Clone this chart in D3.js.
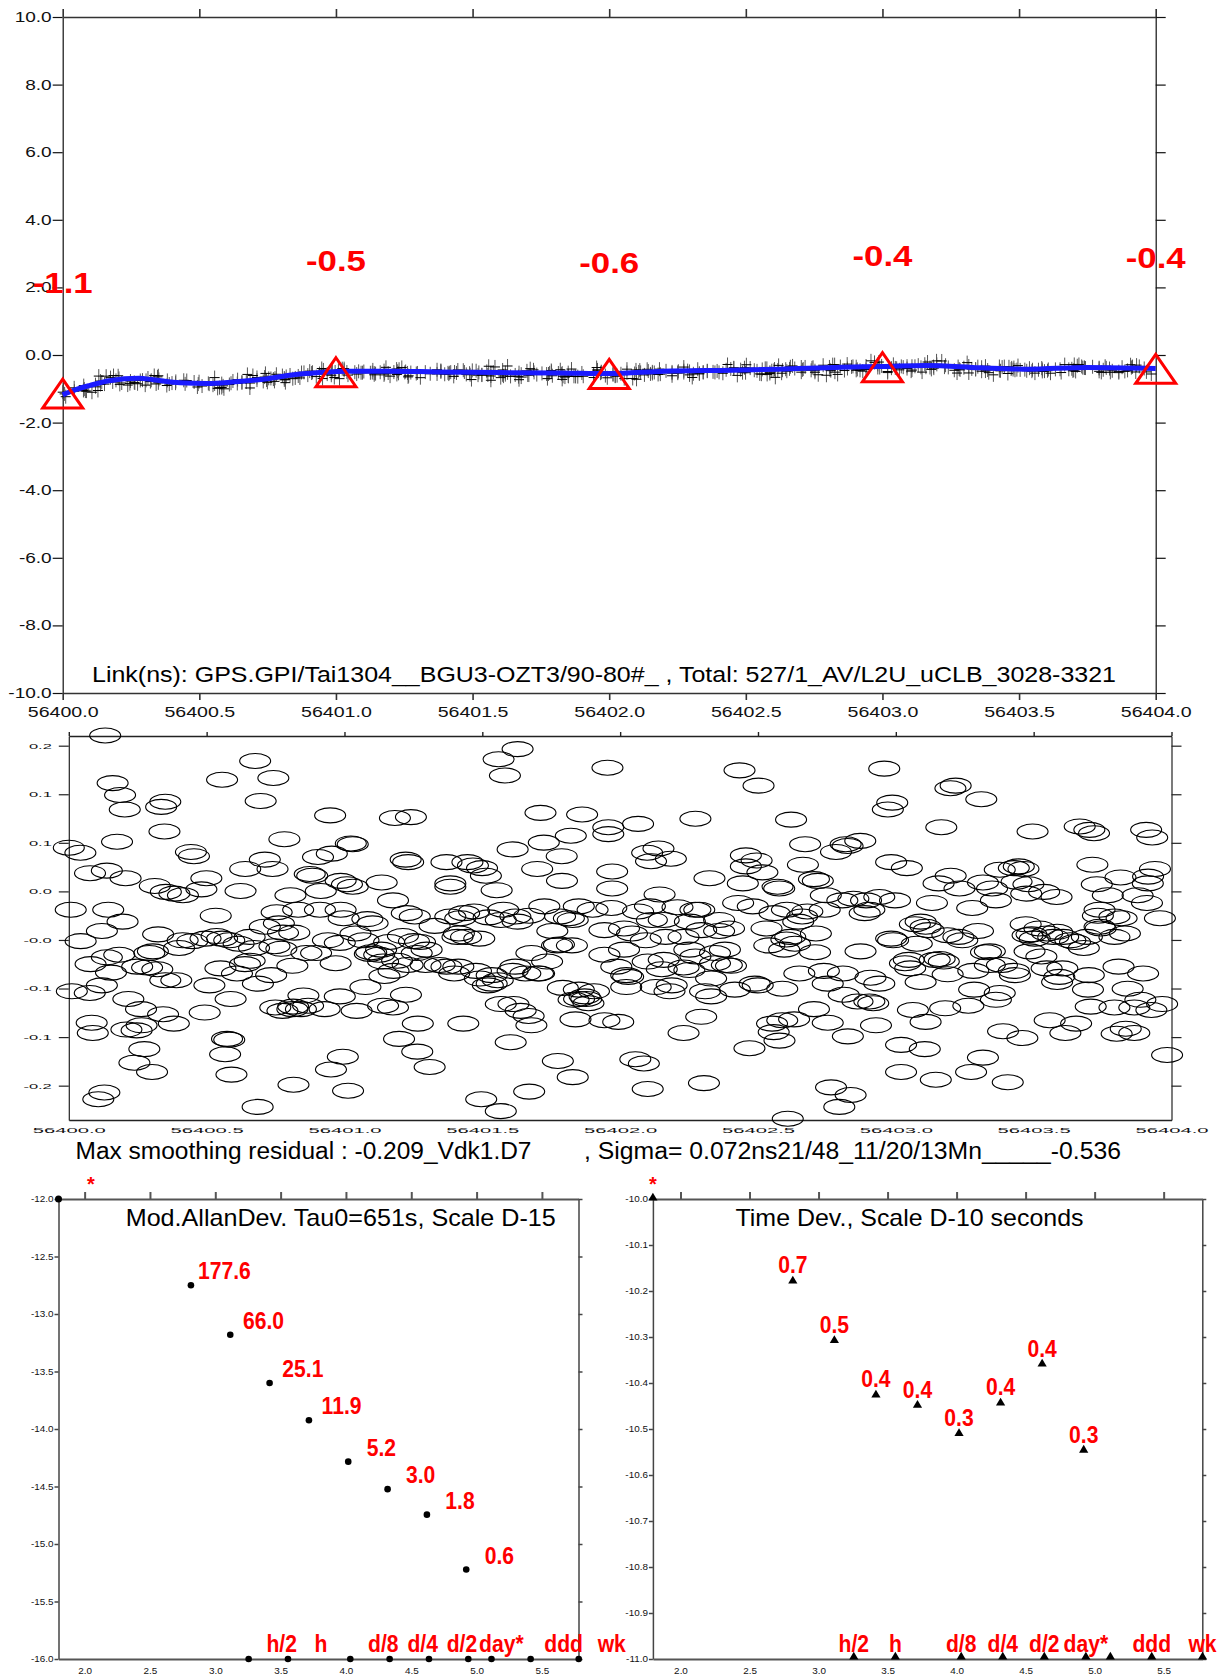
<!DOCTYPE html>
<html>
<head>
<meta charset="utf-8">
<script src="https://cdn.jsdelivr.net/npm/d3@7"></script>
<style>
  body { margin: 0; background: #fff; }
  svg { display: block; font-family: "Liberation Sans", Arial, sans-serif; }
</style>
</head>
<body>
<svg id="chart" width="1221" height="1678"></svg>
<script>
  'use strict';

  /* ---- data ---- */
  var MJD0 = 56400;

  // smoothed link curve (days after MJD0, ns)
  var smoothDays = [0, 0.05, 0.1, 0.17, 0.28, 0.33, 0.43, 0.53, 0.62, 0.75, 0.83, 0.94, 1.05, 1.2,
    1.37, 1.6, 1.82, 2.0, 2.2, 2.45, 2.62, 2.85, 3.0, 3.16, 3.36, 3.53, 3.75, 4.0];
  var smoothNs = [-1.18, -1.02, -0.90, -0.76, -0.69, -0.73, -0.82, -0.84, -0.80, -0.70, -0.60, -0.52,
    -0.48, -0.48, -0.50, -0.52, -0.53, -0.55, -0.48, -0.45, -0.42, -0.36, -0.34, -0.31, -0.38, -0.42,
    -0.37, -0.40];

  // daily values marked with red triangles
  var dayMarks = [0, 1, 2, 3, 4];
  var dayMarkNs = [-1.14, -0.51, -0.56, -0.36, -0.41];

  // smoothing residuals [day after MJD0, ns]
  var residuals = [
    [0.132, 0.212], [0.159, 0.156], [0.186, 0.142], [0.203, 0.125], [0.350, 0.134], [0.335, 0.128],
    [0.347, 0.099], [0.175, 0.087], [0.000, 0.080], [0.042, 0.074], [0.077, 0.050], [0.138, 0.053],
    [0.206, 0.044], [0.312, 0.035], [0.352, 0.028], [0.383, 0.026], [0.414, 0.024], [0.443, 0.075],
    [0.454, 0.070], [0.499, 0.044], [0.481, 0.031], [0.556, 0.160], [0.676, 0.182], [0.742, 0.162],
    [0.696, 0.135], [0.782, 0.090], [0.711, 0.066], [0.739, 0.055], [0.640, 0.055], [0.623, 0.029],
    [0.533, 0.000], [0.804, 0.024], [0.874, 0.049], [0.883, 0.047], [0.904, 0.069], [0.954, 0.073],
    [0.914, 0.029], [0.948, 0.118], [1.030, 0.084], [1.023, 0.085], [0.986, 0.041], [1.009, 0.037],
    [1.030, 0.034], [1.135, 0.039], [1.176, 0.018], [1.183, 0.115], [1.241, 0.116], [1.222, 0.066],
    [1.231, 0.063], [1.370, 0.063], [1.384, 0.038], [1.384, 0.034], [1.446, 0.063], [1.466, 0.059],
    [1.499, 0.056], [1.513, 0.047], [1.552, 0.030], [1.559, 0.184], [1.582, 0.165], [1.628, 0.196],
    [1.711, 0.121], [1.862, 0.119], [1.610, 0.078], [1.723, 0.086], [1.821, 0.094], [1.788, 0.070],
    [1.699, 0.055], [1.789, 0.041], [0.007, 0.007], [0.143, 0.007], [0.195, -0.007], [0.120, -0.018],
    [0.043, -0.030], [0.324, -0.022], [0.413, -0.029], [0.448, -0.030], [0.496, -0.027], [0.536, -0.024],
    [0.556, -0.027], [0.582, -0.029], [0.616, -0.033], [0.656, -0.025], [0.672, -0.038], [0.754, 0.004],
    [0.762, -0.009], [0.711, -0.013], [0.777, -0.020], [0.818, -0.020], [0.862, -0.044], [0.746, -0.036],
    [0.771, -0.039], [0.832, 0.007], [0.911, 0.007], [0.986, 0.007], [0.940, -0.029], [0.997, -0.003],
    [1.040, -0.021], [1.083, -0.004], [1.102, -0.009], [1.069, -0.029], [1.097, -0.043], [1.126, -0.046],
    [1.133, -0.040], [1.162, -0.031], [1.226, 0.003], [1.255, -0.001], [1.212, -0.024], [1.252, -0.030],
    [1.274, -0.031], [1.327, -0.012], [1.298, -0.040], [1.294, -0.058], [1.345, -0.058], [1.370, -0.060],
    [1.398, -0.068], [1.384, -0.001], [1.420, -0.003], [1.434, 0.003], [1.415, -0.021], [1.410, -0.025],
    [1.441, -0.025], [1.489, -0.027], [1.470, 0.005], [1.523, -0.002], [1.567, -0.005], [1.576, 0.007],
    [1.628, -0.007], [1.620, -0.001], [1.670, 0.000], [1.725, 0.011], [1.754, -0.018], [1.782, -0.001],
    [1.814, -0.003], [1.828, -0.005], [1.850, 0.011], [1.900, 0.007], [1.771, -0.035], [1.778, -0.034],
    [1.825, -0.035], [1.735, -0.054], [1.678, -0.044], [1.656, -0.068], [1.706, -0.068], [0.079, -0.057],
    [0.138, -0.049], [0.183, -0.046], [0.153, -0.067], [0.248, -0.060], [0.284, -0.061], [0.321, -0.063],
    [0.305, -0.042], [0.292, -0.044], [0.400, -0.038], [0.350, -0.076], [0.390, -0.076], [0.510, -0.082],
    [0.550, -0.062], [0.610, -0.068], [0.656, -0.053], [0.639, -0.057], [0.686, -0.080], [0.734, -0.070],
    [0.811, -0.059], [0.897, -0.044], [0.968, -0.056], [0.983, -0.032], [1.092, -0.045], [1.140, -0.054],
    [1.178, -0.065], [1.145, -0.071], [1.191, -0.053], [1.229, -0.058], [1.262, -0.044], [1.413, -0.060],
    [1.477, -0.065], [1.491, -0.074], [1.534, -0.070], [1.556, -0.076], [1.520, -0.082], [1.534, -0.080],
    [1.620, -0.060], [1.610, -0.065], [1.702, -0.068], [1.792, -0.085], [1.850, -0.087], [1.871, -0.095],
    [1.877, -0.098], [1.885, -0.103], [1.851, -0.098], [1.831, -0.099], [1.905, -0.089], [1.838, -0.122],
    [0.011, -0.089], [0.076, -0.091], [0.120, -0.082], [0.216, -0.098], [0.262, -0.110], [0.342, -0.116],
    [0.381, -0.127], [0.493, -0.114], [0.587, -0.098], [0.749, -0.108], [0.775, -0.112], [0.814, -0.107],
    [0.842, -0.110], [0.868, -0.106], [0.851, -0.094], [0.811, -0.110], [0.928, -0.110], [0.983, -0.095],
    [1.044, -0.112], [1.076, -0.084], [1.140, -0.106], [1.176, -0.108], [1.223, -0.093], [1.266, -0.127],
    [1.431, -0.127], [1.567, -0.104], [1.613, -0.104], [1.639, -0.112], [1.668, -0.118], [1.678, -0.129],
    [0.083, -0.126], [0.087, -0.138], [0.209, -0.134], [0.246, -0.135], [0.264, -0.129], [0.274, -0.157],
    [0.238, -0.173], [0.302, -0.184], [0.574, -0.145], [0.582, -0.146], [0.567, -0.163], [0.590, -0.187],
    [0.815, -0.199], [0.951, -0.181], [0.994, -0.166], [1.013, -0.206], [1.198, -0.145], [1.264, -0.160],
    [1.309, -0.178], [1.603, -0.149], [1.774, -0.171], [1.828, -0.190], [1.670, -0.207], [1.496, -0.216],
    [1.567, -0.230], [0.129, -0.208], [0.107, -0.216], [0.685, -0.225],
    [1.954, 0.174], [2.433, 0.171], [2.502, 0.153], [2.958, 0.173], [3.198, 0.150], [3.217, 0.153],
    [3.310, 0.137], [2.987, 0.133], [2.971, 0.125], [2.273, 0.114], [2.620, 0.113], [3.165, 0.104],
    [3.496, 0.099], [3.667, 0.105], [3.702, 0.101], [3.719, 0.097], [3.908, 0.101], [3.930, 0.092],
    [2.065, 0.108], [1.957, 0.104], [1.957, 0.096], [2.671, 0.084], [2.783, 0.075], [2.818, 0.084],
    [2.871, 0.088], [2.825, 0.082], [2.139, 0.079], [2.098, 0.074], [2.112, 0.064], [2.184, 0.067],
    [2.456, 0.071], [2.495, 0.065], [2.456, 0.058], [2.516, 0.051], [2.663, 0.060], [2.983, 0.063],
    [3.040, 0.056], [3.713, 0.060], [3.940, 0.055], [3.377, 0.054], [3.446, 0.058], [3.463, 0.055],
    [1.971, 0.052], [2.324, 0.044], [2.445, 0.038], [2.571, 0.034], [2.577, 0.032], [2.703, 0.043],
    [2.717, 0.041], [3.155, 0.038], [3.199, 0.047], [3.231, 0.032], [3.316, 0.039], [3.349, 0.032],
    [3.438, 0.040], [3.481, 0.037], [3.473, 0.026], [3.538, 0.028], [3.583, 0.022], [3.729, 0.037],
    [3.815, 0.045], [3.915, 0.046], [3.914, 0.038], [3.877, 0.024], [3.911, 0.015], [3.769, 0.024],
    [3.958, -0.003], [1.971, 0.032], [1.968, 0.009], [2.143, 0.025], [2.108, 0.011], [2.208, 0.010],
    [2.287, 0.007], [2.273, 0.007], [2.065, 0.005], [2.428, 0.015], [2.481, 0.011], [2.605, 0.007],
    [2.746, 0.024], [2.742, 0.007], [2.806, 0.018], [2.846, 0.020], [2.892, 0.018], [2.940, 0.022],
    [2.997, 0.018], [2.904, 0.007], [2.887, 0.003], [2.679, 0.005], [2.660, -0.001], [2.646, -0.007],
    [2.560, 0.003], [3.131, 0.015], [3.277, 0.009], [3.363, 0.018], [3.739, 0.007], [3.733, 0.000],
    [3.739, -0.013], [3.793, -0.001], [3.819, -0.003], [3.831, -0.021], [3.793, -0.025], [3.743, -0.015],
    [3.693, -0.025], [2.014, -0.015], [2.043, -0.021], [2.115, -0.005], [2.158, -0.005], [2.253, -0.007],
    [2.294, -0.017], [2.359, -0.018], [2.395, -0.015], [2.359, -0.005], [2.230, -0.025], [2.165, -0.025],
    [2.093, -0.029], [1.943, -0.017], [2.531, -0.015], [2.617, -0.025], [2.710, -0.021], [2.603, -0.028],
    [2.634, -0.033], [2.541, -0.035], [2.707, -0.043], [2.595, -0.040], [3.069, -0.010], [3.090, -0.007],
    [3.108, -0.013], [3.119, -0.017], [2.983, -0.027], [2.990, -0.029], [3.076, -0.033], [3.187, -0.023],
    [3.227, -0.025], [3.241, -0.029], [3.298, -0.018], [3.341, -0.042], [3.471, -0.010], [3.521, -0.015],
    [3.549, -0.021], [3.585, -0.019], [3.607, -0.025], [3.633, -0.029], [3.650, -0.031], [3.682, -0.038],
    [3.571, -0.025], [3.478, -0.023], [3.492, -0.022], [3.504, -0.027], [2.014, -0.040], [1.943, -0.046],
    [2.100, -0.054], [2.158, -0.052], [1.986, -0.060], [2.022, -0.070], [2.029, -0.072], [2.251, -0.040],
    [2.273, -0.048], [2.344, -0.044], [2.380, -0.040], [2.230, -0.061], [2.251, -0.064], [2.151, -0.063],
    [2.344, -0.056], [2.387, -0.058], [2.402, -0.059], [2.330, -0.074], [2.308, -0.089], [2.330, -0.095],
    [2.187, -0.082], [2.179, -0.089], [2.129, -0.084], [2.022, -0.084], [2.416, -0.087], [2.488, -0.080],
    [2.499, -0.082], [2.588, -0.086], [2.650, -0.068], [2.739, -0.065], [2.753, -0.080], [2.808, -0.068],
    [2.811, -0.093], [2.861, -0.101], [2.904, -0.101], [2.918, -0.103], [2.908, -0.073], [2.940, -0.080],
    [2.872, -0.042], [3.033, -0.056], [3.047, -0.052], [3.052, -0.062], [3.090, -0.078], [3.141, -0.052],
    [3.159, -0.051], [3.174, -0.054], [3.188, -0.069], [3.281, -0.065], [3.327, -0.043], [3.341, -0.058],
    [3.385, -0.058], [3.428, -0.065], [3.432, -0.070], [3.485, -0.042], [3.528, -0.048], [3.547, -0.062],
    [3.604, -0.062], [3.593, -0.072], [3.585, -0.078], [3.700, -0.070], [3.697, -0.087], [3.808, -0.060],
    [3.897, -0.068], [3.841, -0.086], [3.887, -0.099], [3.865, -0.108], [3.927, -0.111], [3.966, -0.104],
    [3.793, -0.108], [3.707, -0.107], [3.377, -0.091], [3.363, -0.099], [3.284, -0.087], [3.263, -0.106],
    [3.179, -0.109], [3.062, -0.111], [3.108, -0.125], [2.703, -0.110], [2.753, -0.126], [2.928, -0.129],
    [2.826, -0.142], [2.631, -0.122], [2.588, -0.123], [2.551, -0.127], [2.557, -0.137], [2.578, -0.147],
    [2.469, -0.156], [2.294, -0.119], [2.230, -0.138], [1.993, -0.125], [1.943, -0.123], [2.055, -0.169],
    [2.086, -0.174], [2.100, -0.204], [2.304, -0.197], [2.765, -0.202], [2.836, -0.211], [2.795, -0.225],
    [2.608, -0.239], [3.019, -0.152], [3.105, -0.157], [3.019, -0.184], [3.145, -0.193], [3.273, -0.184],
    [3.316, -0.167], [3.406, -0.196], [3.389, -0.136], [3.459, -0.144], [3.558, -0.123], [3.654, -0.127],
    [3.615, -0.138], [3.801, -0.139], [3.834, -0.133], [3.865, -0.138], [3.984, -0.164], [3.428, 0.056]
  ];
  var residualTicks = [0.2, 0.142857, 0.085714, 0.028571, -0.028571, -0.085714, -0.142857, -0.2];
  var residualTickLabels = ['0.2', '0.1', '0.1', '0.0', '-0.0', '-0.1', '-0.1', '-0.2'];

  // stability analysis
  var tau0 = 651;
  var tauMultiples = [1, 2, 4, 8, 16, 32, 64, 128];
  var modAdev = [177.6, 66.0, 25.1, 11.9, 5.2, 3.0, 1.8, 0.6];          // x 1e-15
  var timeDev = [0.667, 0.495, 0.377, 0.358, 0.311, 0.362, 0.440, 0.286]; // x 1e-10 s
  var refTau = [1800, 3600, 10800, 21600, 43200, 86400, 130000, 259200, 604800];
  var refTauLabels = ['h/2', 'h', 'd/8', 'd/4', 'd/2', 'day*', '', 'ddd', 'wk'];

  var titleLink = 'Link(ns): GPS.GPI/Tai1304__BGU3-OZT3/90-80#_ , Total: 527/1_AV/L2U_uCLB_3028-3321';
  var residualNote = 'Max smoothing residual : -0.209_Vdk1.D7';
  var sigmaNote = ', Sigma= 0.072ns21/48_11/20/13Mn_____-0.536';
  var adevTitle = 'Mod.AllanDev. Tau0=651s, Scale D-15';
  var tdevTitle = 'Time Dev., Scale D-10 seconds';

  var FONT = '"Liberation Sans", Arial, sans-serif';
  var RED = '#ff0000';

  var svg = d3.select('#chart');
  svg.append('rect').attr('width', 1221).attr('height', 1678).attr('fill', '#fff');

  /* stretch tick labels horizontally, as in the original bitmap */
  function styleAxis(g, size, sx, color, width) {
    g.attr('font-size', size).attr('font-family', FONT);
    g.select('.domain').attr('stroke', color).attr('stroke-width', width);
    g.selectAll('.tick line').attr('stroke', color).attr('stroke-width', width);
    g.selectAll('.tick text').attr('fill', '#111').each(function() {
      var t = d3.select(this);
      t.attr('x', (+t.attr('x') || 0) / sx).attr('transform', 'scale(' + sx + ',1)');
    });
  }

  function addText(parent, x, y, str, o) {
    var t = parent.append('text')
      .attr('transform', 'translate(' + x + ',' + y + ') scale(' + (o.sx || 1) + ',1)')
      .attr('text-anchor', o.anchor || 'start')
      .attr('font-size', o.size)
      .attr('font-weight', o.bold ? 'bold' : null)
      .attr('fill', o.color || '#000')
      .text(str);
    if (o.len) {
      t.attr('textLength', o.len).attr('lengthAdjust', 'spacingAndGlyphs');
    }
    return t;
  }

  /* ================= top chart : link (ns) ================= */
  var xTop = d3.scaleLinear().domain([MJD0, MJD0 + 4]).range([62.7, 1155.7]);
  var yTop = d3.scaleLinear().domain([-10, 10]).range([693, 17]);
  var smooth = d3.scaleLinear().domain(smoothDays).range(smoothNs);
  var mjdTicks = d3.range(0, 4.01, 0.5).map(function(d) { return MJD0 + d; });
  var nsTicks = d3.range(-10, 10.01, 2);

  var gTop = svg.append('g');

  var axL = gTop.append('g').attr('transform', 'translate(62.7,0)')
    .call(d3.axisLeft(yTop).tickValues(nsTicks).tickSize(10).tickSizeOuter(0).tickPadding(1)
      .tickFormat(function(d) { return d.toFixed(1); }));
  styleAxis(axL, 14, 1.36, '#111', 1.2);

  var axR = gTop.append('g').attr('transform', 'translate(1155.7,0)')
    .call(d3.axisRight(yTop).tickValues(nsTicks).tickSize(10).tickSizeOuter(0).tickFormat(''));
  styleAxis(axR, 14, 1, '#111', 1.2);

  var axT = gTop.append('g').attr('transform', 'translate(0,17)')
    .call(d3.axisTop(xTop).tickValues(mjdTicks).tickSize(8).tickSizeOuter(0).tickFormat(''));
  styleAxis(axT, 14, 1, '#333', 1.6);

  var axB = gTop.append('g').attr('transform', 'translate(0,693)')
    .call(d3.axisBottom(xTop).tickValues(mjdTicks).tickSize(7).tickSizeOuter(0).tickPadding(7)
      .tickFormat(function(d) { return d.toFixed(1); }));
  styleAxis(axB, 14, 1.4, '#333', 1.6);

  var linkPts = residuals.map(function(r) {
    return { t: MJD0 + r[0], v: smooth(r[0]) + r[1] };
  });

  var gPts = gTop.append('g');
  gPts.selectAll('line.err').data(linkPts).enter().append('line')
    .attr('class', 'err')
    .attr('x1', function(d) { return xTop(d.t); })
    .attr('x2', function(d) { return xTop(d.t); })
    .attr('y1', function(d) { return yTop(d.v) - 7; })
    .attr('y2', function(d) { return yTop(d.v) + 7; })
    .attr('stroke', '#555').attr('stroke-width', 1);
  gPts.selectAll('line.bar').data(linkPts).enter().append('line')
    .attr('class', 'bar')
    .attr('x1', function(d) { return xTop(d.t) - 5; })
    .attr('x2', function(d) { return xTop(d.t) + 5; })
    .attr('y1', function(d) { return yTop(d.v); })
    .attr('y2', function(d) { return yTop(d.v); })
    .attr('stroke', '#000').attr('stroke-width', 1);

  var smoothLine = d3.line()
    .x(function(d) { return xTop(MJD0 + d); })
    .y(function(d, i) { return yTop(smoothNs[i]); })
    .curve(d3.curveMonotoneX);
  gTop.append('path').attr('d', smoothLine(smoothDays))
    .attr('fill', 'none').attr('stroke', '#1a1aff').attr('stroke-width', 5);

  gTop.selectAll('path.daymark').data(dayMarks).enter().append('path')
    .attr('class', 'daymark')
    .attr('d', 'M0,-14.5L20,14.5L-20,14.5Z')
    .attr('transform', function(d, i) {
      return 'translate(' + xTop(MJD0 + d) + ',' + yTop(dayMarkNs[i]) + ')';
    })
    .attr('fill', 'none').attr('stroke', RED).attr('stroke-width', 3);

  dayMarks.forEach(function(d, i) {
    addText(gTop, xTop(MJD0 + d), yTop(dayMarkNs[i]) - 101, dayMarkNs[i].toFixed(1),
      { size: 29, bold: true, color: RED, anchor: 'middle', sx: 1.2 });
  });

  addText(gTop, 92, 682, titleLink, { size: 22, len: 1024 });

  /* ================= residual scatter ================= */
  var xRes = d3.scaleLinear().domain([MJD0, MJD0 + 4]).range([68.8, 1171.5]);
  var yRes = d3.scaleLinear().domain([-0.2404, 0.2114]).range([1120, 736]);
  var gRes = svg.append('g');

  var rL = gRes.append('g').attr('transform', 'translate(68.8,0)')
    .call(d3.axisLeft(yRes).tickValues(residualTicks).tickSize(10).tickSizeOuter(0).tickPadding(7)
      .tickFormat(function(d, i) { return residualTickLabels[i]; }));
  styleAxis(rL, 7.5, 2.2, '#222', 1.2);

  var rR = gRes.append('g').attr('transform', 'translate(1171.5,0)')
    .call(d3.axisRight(yRes).tickValues(residualTicks).tickSize(10).tickSizeOuter(0).tickFormat(''));
  styleAxis(rR, 7.5, 1, '#222', 1.2);

  var rT = gRes.append('g').attr('transform', 'translate(0,736)')
    .call(d3.axisTop(xRes).tickValues(mjdTicks).tickSize(4).tickSizeOuter(0).tickFormat(''));
  styleAxis(rT, 7.5, 1, '#222', 1.4);

  var rB = gRes.append('g').attr('transform', 'translate(0,1120)')
    .call(d3.axisBottom(xRes).tickValues(mjdTicks).tickSize(0).tickSizeOuter(0).tickPadding(8)
      .tickFormat(function(d) { return d.toFixed(1); }));
  styleAxis(rB, 7.5, 2.7, '#222', 1.4);

  gRes.selectAll('ellipse').data(residuals).enter().append('ellipse')
    .attr('cx', function(d) { return xRes(MJD0 + d[0]); })
    .attr('cy', function(d) { return yRes(d[1]); })
    .attr('rx', 15.5).attr('ry', 7.5)
    .attr('fill', 'none').attr('stroke', '#000').attr('stroke-width', 1.1);

  addText(svg, 75.5, 1159, residualNote, { size: 23, len: 456 });
  addText(svg, 584, 1159, sigmaNote, { size: 23, len: 537 });

  /* ================= stability panels ================= */
  var logTicks = d3.range(2, 5.51, 0.5);

  function panel(x0, x1, yDom, yTicks) {
    var x = d3.scaleLinear().domain([1.8, 5.78]).range([x0, x1]);
    var y = d3.scaleLinear().domain(yDom).range([1659, 1199]);
    var g = svg.append('g');
    var a;
    a = g.append('g').attr('transform', 'translate(' + x0 + ',0)')
      .call(d3.axisLeft(y).tickValues(yTicks).tickSize(4).tickSizeOuter(0).tickPadding(1)
        .tickFormat(function(d) { return d.toFixed(1); }));
    styleAxis(a, 9, 1.1, '#444', 1.5);
    a = g.append('g').attr('transform', 'translate(' + x1 + ',0)')
      .call(d3.axisRight(y).tickValues(yTicks).tickSize(4).tickSizeOuter(0).tickFormat(''));
    styleAxis(a, 9, 1, '#444', 1.5);
    a = g.append('g').attr('transform', 'translate(0,1199)')
      .call(d3.axisTop(x).tickValues(logTicks).tickSize(7).tickSizeOuter(0).tickFormat(''));
    styleAxis(a, 9, 1, '#555', 2);
    a = g.append('g').attr('transform', 'translate(0,1659)')
      .call(d3.axisBottom(x).tickValues(logTicks).tickSize(0).tickSizeOuter(0).tickPadding(9)
        .tickFormat(function(d) { return d.toFixed(1); }));
    styleAxis(a, 9, 1.1, '#555', 2);
    return { x: x, y: y, g: g };
  }

  // left: modified Allan deviation
  var pA = panel(58.5, 578.5, [-16, -12], d3.range(-16, -11.99, 0.5));
  var adevPts = tauMultiples.map(function(m, i) {
    return { lx: Math.log10(tau0 * m), ly: Math.log10(modAdev[i] * 1e-15), label: modAdev[i].toFixed(1) };
  });
  pA.g.selectAll('circle.pt').data(adevPts).enter().append('circle')
    .attr('cx', function(d) { return pA.x(d.lx); })
    .attr('cy', function(d) { return pA.y(d.ly); })
    .attr('r', 3.3).attr('fill', '#000');
  adevPts.forEach(function(d) {
    addText(pA.g, pA.x(d.lx) + 7 + 5.7 * (5 - d.label.length), pA.y(d.ly) - 6, d.label,
      { size: 24, bold: true, color: RED, sx: 0.88 });
  });
  pA.g.selectAll('circle.ref').data(refTau).enter().append('circle')
    .attr('cx', function(d) { return pA.x(Math.log10(d)); })
    .attr('cy', pA.y(-16))
    .attr('r', 3.3).attr('fill', '#000');
  pA.g.append('circle').attr('cx', pA.x(1.8)).attr('cy', pA.y(-12)).attr('r', 3.5).attr('fill', '#000');
  refTau.forEach(function(d, i) {
    addText(pA.g, pA.x(Math.log10(d)) + 33, 1652, refTauLabels[i],
      { size: 24, bold: true, color: RED, anchor: 'middle', sx: 0.88 });
  });
  addText(pA.g, 125.7, 1225.5, adevTitle, { size: 24, len: 430 });
  addText(pA.g, 91, 1191, '*', { size: 20, bold: true, color: RED, anchor: 'middle' });

  // right: time deviation
  var pT = panel(652.9, 1202.3, [-11, -10], d3.range(-11, -9.99, 0.1));
  var tri = 'M0,-4.2L4.6,3.6L-4.6,3.6Z';
  var tdevPts = tauMultiples.map(function(m, i) {
    return { lx: Math.log10(tau0 * m), ly: Math.log10(timeDev[i] * 1e-10), label: timeDev[i].toFixed(1) };
  });
  pT.g.selectAll('path.pt').data(tdevPts).enter().append('path')
    .attr('d', tri)
    .attr('transform', function(d) { return 'translate(' + pT.x(d.lx) + ',' + pT.y(d.ly) + ')'; })
    .attr('fill', '#000');
  tdevPts.forEach(function(d) {
    addText(pT.g, pT.x(d.lx), pT.y(d.ly) - 6.5, d.label,
      { size: 24, bold: true, color: RED, anchor: 'middle', sx: 0.88 });
  });
  pT.g.selectAll('path.ref').data(refTau).enter().append('path')
    .attr('d', tri)
    .attr('transform', function(d) { return 'translate(' + pT.x(Math.log10(d)) + ',' + (pT.y(-11) - 3) + ')'; })
    .attr('fill', '#000');
  pT.g.append('path').attr('d', tri)
    .attr('transform', 'translate(' + pT.x(1.8) + ',' + (pT.y(-10) - 2) + ')').attr('fill', '#000');
  refTau.forEach(function(d, i) {
    addText(pT.g, pT.x(Math.log10(d)), 1652, refTauLabels[i],
      { size: 24, bold: true, color: RED, anchor: 'middle', sx: 0.88 });
  });
  addText(pT.g, 735.5, 1225.5, tdevTitle, { size: 24, len: 348 });
  addText(pT.g, 652.9, 1191, '*', { size: 20, bold: true, color: RED, anchor: 'middle' });
</script>
</body>
</html>
